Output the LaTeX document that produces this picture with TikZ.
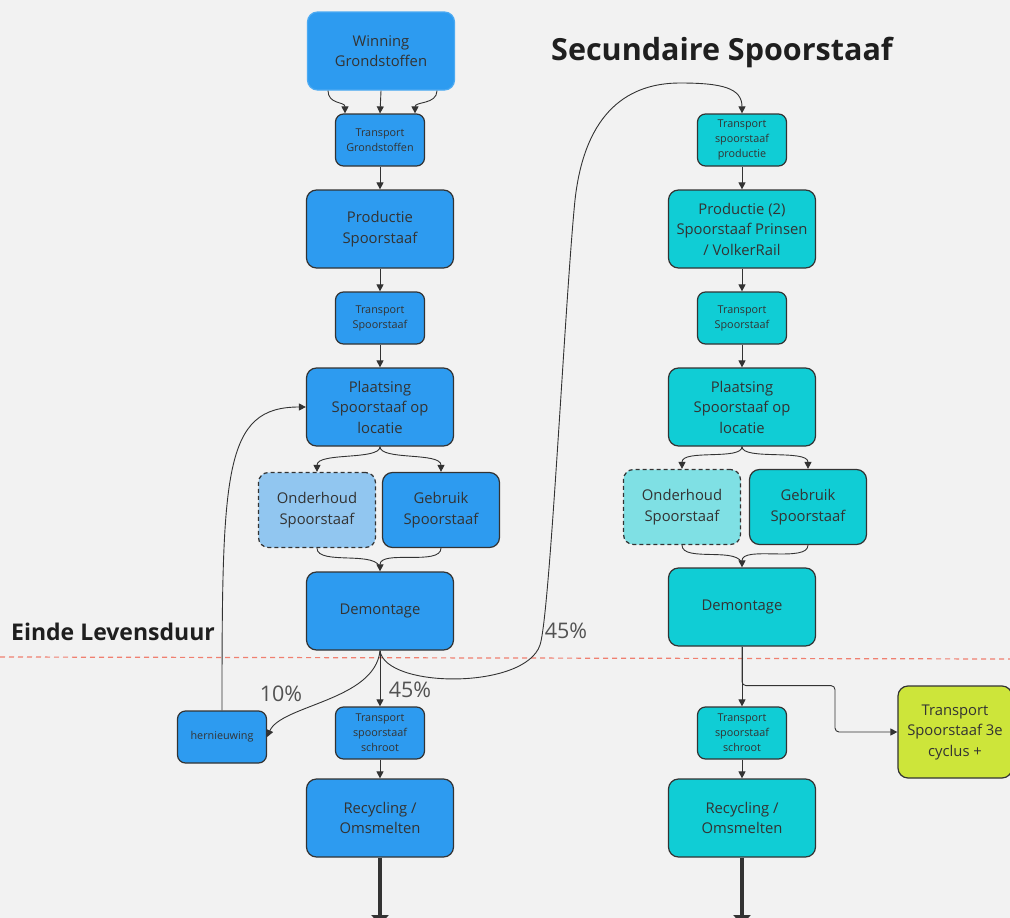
\documentclass[tikz,border=0pt]{standalone}
\usepackage{fontspec}
\setmainfont{Open Sans}
\usetikzlibrary{arrows.meta,calc}
\definecolor{bg}{HTML}{F2F2F2}
\definecolor{blu}{HTML}{2D9BF0}
\definecolor{blulight}{HTML}{91C6F0}
\definecolor{teal}{HTML}{10CDD5}
\definecolor{teallight}{HTML}{7FE0E4}
\definecolor{lime}{HTML}{CDE53A}
\definecolor{edge}{HTML}{333333}
\definecolor{txt}{HTML}{333333}
\definecolor{redline}{HTML}{F08070}
\tikzset{
  box/.style={draw=edge, line width=1.2pt, rounded corners=10pt, align=center, inner sep=0pt, text=txt},
  bigbox/.style={box, minimum width=147pt, minimum height=78pt, font=\fontsize{14.8}{20.5}\selectfont},
  midbox/.style={box, minimum width=117pt, minimum height=75pt, font=\fontsize{14.8}{20.5}\selectfont},
  smallbox/.style={box, rounded corners=8pt, minimum width=89pt, minimum height=52pt, font=\fontsize{10.8}{15}\selectfont},
  conn/.style={draw=edge, line width=0.9pt, -{Triangle[length=7pt,width=7pt]}},
  plain/.style={draw=edge, line width=0.9pt},
  pct/.style={text=txt!85, font=\fontsize{21.5}{24}\selectfont, inner sep=0pt},
  fat/.style={draw=edge, line width=3.5pt, -{Triangle[length=10pt,width=17pt]}}
}
\begin{document}
\begin{tikzpicture}[x=1pt,y=-1pt]
\useasboundingbox (0,0) rectangle (1010,918);
\clip (0,0) rectangle (1010,918);
\fill[bg] (0,0) rectangle (1010,918);

% titles
\node[font=\bfseries\fontsize{30.5}{33}\selectfont, text=black!88] (title) at (722,52) {Secundaire Spoorstaaf};
\node[font=\bfseries\fontsize{23}{26}\selectfont, text=black!88] (einde) at (113,632) {Einde Levensduur};
\coordinate (lineL) at (0,657);
\coordinate (lineR) at (1010,659);
\draw[redline, line width=1.2pt, dash pattern=on 5pt off 4pt] (lineL) -- (lineR);

% left column
\node[bigbox, fill=blu, draw=blu!85!white] (W) at (381,51) {Winning\\Grondstoffen};
\node[smallbox, fill=blu] (TG) at (380,140) {Transport\\Grondstoffen};
\node[bigbox, fill=blu] (PS) at (380,229) {Productie\\Spoorstaaf};
\node[smallbox, fill=blu] (TS) at (380,318) {Transport\\Spoorstaaf};
\node[bigbox, fill=blu] (PL) at (380,407) {Plaatsing\\Spoorstaaf op\\locatie};
\node[midbox, fill=blulight, dashed, dash pattern=on 4pt off 3pt] (OH) at (317,510) {Onderhoud\\Spoorstaaf};
\node[midbox, fill=blu] (GB) at (441,510) {Gebruik\\Spoorstaaf};
\node[bigbox, fill=blu] (DM) at (380,611) {Demontage};
\node[smallbox, fill=blu] (HN) at (222,737) {hernieuwing};
\node[smallbox, fill=blu] (TSS) at (380,733) {Transport\\spoorstaaf\\schroot};
\node[bigbox, fill=blu] (RC) at (380,818) {Recycling /\\Omsmelten};
\coordinate (endL) at (380,925);

% right column
\node[smallbox, fill=teal] (TP2) at (742,140) {Transport\\spoorstaaf\\productie};
\node[bigbox, fill=teal] (PS2) at (742,229) {Productie (2)\\Spoorstaaf Prinsen\\/ VolkerRail};
\node[smallbox, fill=teal] (TS2) at (742,318) {Transport\\Spoorstaaf};
\node[bigbox, fill=teal] (PL2) at (742,407) {Plaatsing\\Spoorstaaf op\\locatie};
\node[midbox, fill=teallight, dashed, dash pattern=on 4pt off 3pt] (OH2) at (682,507) {Onderhoud\\Spoorstaaf};
\node[midbox, fill=teal] (GB2) at (808,507) {Gebruik\\Spoorstaaf};
\node[bigbox, fill=teal] (DM2) at (742,607) {Demontage};
\node[smallbox, fill=teal] (TSS2) at (742,733) {Transport\\spoorstaaf\\schroot};
\node[bigbox, fill=teal] (RC2) at (742,818) {Recycling /\\Omsmelten};
\node[box, fill=lime, minimum width=114pt, minimum height=92pt, font=\fontsize{14.8}{20.5}\selectfont] (C3) at (955,732) {Transport\\Spoorstaaf 3e\\cyclus +};
\coordinate (endR) at (742,925);

% left connectors
\draw[conn] ($(W.south)+(-53,0)$) .. controls ($(W.south)+(-53,14)$) and ($(TG.north)+(-35,-12)$) .. ($(TG.north)+(-35,0)$);
\draw[conn] (W.south) -- (TG.north);
\draw[conn] ($(W.south)+(56,0)$) .. controls ($(W.south)+(56,14)$) and ($(TG.north)+(35,-12)$) .. ($(TG.north)+(35,0)$);
\draw[conn] (TG) -- (PS);
\draw[conn] (PS) -- (TS);
\draw[conn] (TS) -- (PL);
\draw[conn] (PL.south) .. controls ($(PL.south)+(0,14)$) and ($(OH.north)+(0,-20)$) .. (OH.north);
\draw[conn] (PL.south) .. controls ($(PL.south)+(0,14)$) and ($(GB.north)+(0,-20)$) .. (GB.north);
\draw[plain] (OH.south) .. controls ($(OH.south)+(0,18)$) and ($(DM.north)+(0,-22)$) .. ($(DM.north)+(0,-2)$);
\draw[conn] (GB.south) .. controls ($(GB.south)+(0,18)$) and ($(DM.north)+(0,-22)$) .. (DM.north);
\draw[conn] (DM) -- (TSS);
\node[pct] (p45a) at (410,690) {45\%};
\draw[conn] (DM.south) .. controls ($(DM.south)+(-5,50)$) and ($(HN.east)+(14,-32)$) .. (HN.east);
\node[pct] (p10) at (281,694) {10\%};
\draw[conn] (HN.north) .. controls ($(HN.north)+(0,-240)$) and ($(PL.west)+(-82,0)$) .. (PL.west);
\draw[conn] (DM.south) .. controls ($(DM.south)+(5,38)$) and (525,690) .. (540,645)
  .. controls (550,615) and (565,300) .. (575,200)
  .. controls (585,110) and (630,83) .. (680,83)
  .. controls (722,83) and (742,88) .. (TP2.north);
\node[pct] (p45b) at (566,631) {45\%};
\draw[fat] (RC) -- (endL);

% right connectors
\draw[conn] (TP2) -- (PS2);
\draw[conn] (PS2) -- (TS2);
\draw[conn] (TS2) -- (PL2);
\draw[conn] (PL2.south) .. controls ($(PL2.south)+(0,14)$) and ($(OH2.north)+(0,-20)$) .. (OH2.north);
\draw[conn] (PL2.south) .. controls ($(PL2.south)+(0,14)$) and ($(GB2.north)+(0,-20)$) .. (GB2.north);
\draw[plain] (OH2.south) .. controls ($(OH2.south)+(0,18)$) and ($(DM2.north)+(0,-22)$) .. ($(DM2.north)+(0,-2)$);
\draw[conn] (GB2.south) .. controls ($(GB2.south)+(0,18)$) and ($(DM2.north)+(0,-22)$) .. (DM2.north);
\draw[conn] (DM2) -- (TSS2);
\draw[conn, rounded corners=4pt] (DM2.south) -- ($(DM2.south)+(0,39)$) -- ($(DM2.south)+(93,39)$) |- (C3.west);
\draw[conn] (TSS2) -- (RC2);
\draw[conn] (TSS) -- (RC);
\draw[fat] (RC2) -- (endR);
\end{tikzpicture}
\end{document}
